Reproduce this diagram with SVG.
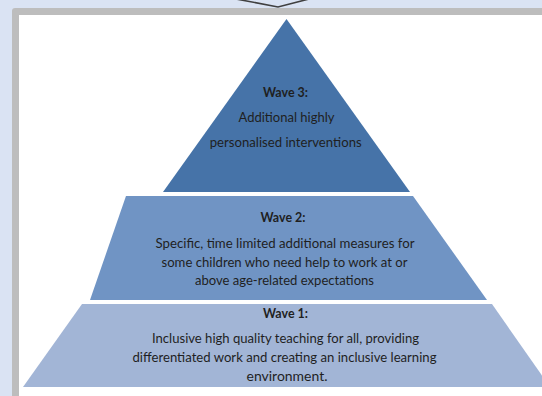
<svg xmlns="http://www.w3.org/2000/svg" width="542" height="396" viewBox="0 0 542 396">
<style>
.t{font-family:"Lato","Liberation Sans",sans-serif;font-size:14px;fill:#1f1f1f;text-anchor:middle}
.b{font-weight:bold}
</style>
<rect x="0" y="0" width="542" height="396" fill="#DAE3F3"/>
<rect x="12" y="8" width="560" height="420" rx="3" fill="#BDBDBD"/>
<rect x="19" y="15" width="560" height="420" fill="#FFFFFF"/>
<g id="connectors">
<polyline points="236,-1 278,7 309,-1" fill="none" stroke="#404040" stroke-width="1.6"/>
</g>
<g id="wave3">
<polygon points="286.5,19 410,192 163,192" fill="#4673A8"/>
<text class="t b" x="285.5" y="97" textLength="45" lengthAdjust="spacingAndGlyphs">Wave 3:</text>
<text class="t" x="286.5" y="122" textLength="96" lengthAdjust="spacingAndGlyphs">Additional highly</text>
<text class="t" x="285.7" y="147" textLength="152" lengthAdjust="spacingAndGlyphs">personalised interventions</text>
</g>
<g id="wave2">
<polygon points="126,196 413,196 487,300 90,300" fill="#7094C4"/>
<text class="t b" x="283" y="222" textLength="45" lengthAdjust="spacingAndGlyphs">Wave 2:</text>
<text class="t" x="285" y="248" textLength="259" lengthAdjust="spacingAndGlyphs">Specific, time limited additional measures for</text>
<text class="t" x="284.5" y="267" textLength="246" lengthAdjust="spacingAndGlyphs">some children who need help to work at or</text>
<text class="t" x="284.5" y="285" textLength="179" lengthAdjust="spacingAndGlyphs">above age-related expectations</text>
</g>
<g id="wave1">
<polygon points="82,304 492,304 550,387 23,387" fill="#A2B5D6"/>
<text class="t b" x="285.5" y="318" textLength="45" lengthAdjust="spacingAndGlyphs">Wave 1:</text>
<text class="t" x="285.5" y="343" textLength="267" lengthAdjust="spacingAndGlyphs">Inclusive high quality teaching for all, providing</text>
<text class="t" x="284.5" y="362" textLength="304" lengthAdjust="spacingAndGlyphs">differentiated work and creating an inclusive learning</text>
<text class="t" x="287" y="381" textLength="81" lengthAdjust="spacingAndGlyphs">environment.</text>
</g>
</svg>
